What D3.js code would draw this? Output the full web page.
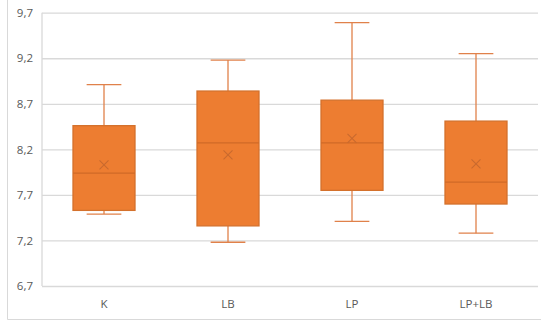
<!DOCTYPE html>
<html>
<head>
<meta charset="utf-8">
<script src="https://cdn.jsdelivr.net/npm/d3@7"></script>
<style>
  html, body { margin: 0; padding: 0; background: #fff; }
  svg { display: block; }
</style>
</head>
<body>
<svg id="chart" width="541" height="324"></svg>
<script>
// Groups and their five-number summaries plus mean
const categories = ["K", "LB", "LP", "LP+LB"];
const minValues    = [7.49, 7.18, 7.41, 7.28];
const q1Values     = [7.53, 7.36, 7.75, 7.60];
const medianValues = [7.94, 8.27, 8.27, 7.84];
const q3Values     = [8.46, 8.84, 8.74, 8.51];
const maxValues    = [8.91, 9.18, 9.59, 9.25];
const meanValues   = [8.03, 8.14, 8.32, 8.04];
const tickValues   = [6.7, 7.2, 7.7, 8.2, 8.7, 9.2, 9.7];

const svg = d3.select("#chart");
const W = 541, H = 324;
const plot = { left: 42, right: 538, top: 12.7, bottom: 286 };

// Outer chart-area frame (left and bottom edges visible)
svg.append("path")
  .attr("d", `M7.5,0 V319.5 H${W}`)
  .attr("fill", "none")
  .attr("stroke", "#d9d9d9")
  .attr("stroke-width", 1);

const x = d3.scaleBand().domain(categories).range([plot.left, plot.right]).padding(0);
const y = d3.scaleLinear().domain([6.7, 9.7]).range([plot.bottom, plot.top]);

const fmt = v => d3.format(".1f")(v).replace(".", ",");

// Horizontal gridlines and value labels
const yAxis = d3.axisLeft(y).tickValues(tickValues).tickFormat(fmt)
  .tickSize(-(plot.right - plot.left)).tickPadding(9);
const gy = svg.append("g").attr("transform", `translate(${plot.left},0)`).call(yAxis);
gy.select(".domain").remove();
gy.selectAll(".tick line").attr("stroke", "#d9d9d9").attr("stroke-width", 1.3);
gy.selectAll(".tick text")
  .attr("fill", "#595959")
  .style("font-family", "'Open Sans', 'Liberation Sans', sans-serif")
  .style("font-size", "11.5px");

// Vertical left edge of plot area
svg.append("line")
  .attr("x1", plot.left).attr("x2", plot.left)
  .attr("y1", y(9.7)).attr("y2", y(6.7))
  .attr("stroke", "#d9d9d9").attr("stroke-width", 1.3);

// Category labels
const xAxis = d3.axisBottom(x).tickSize(0).tickPadding(14);
const gx = svg.append("g").attr("transform", `translate(0,${plot.bottom})`).call(xAxis);
gx.select(".domain").remove();
gx.selectAll(".tick text")
  .attr("fill", "#595959")
  .style("font-family", "'Open Sans', 'Liberation Sans', sans-serif")
  .style("font-size", "11.5px");

const data = categories.map((c, i) => ({
  cat: c, min: minValues[i], q1: q1Values[i], med: medianValues[i],
  q3: q3Values[i], max: maxValues[i], mean: meanValues[i]
}));

const boxW = x.bandwidth() * 0.5;
const capW = boxW * 0.28;
const fill = "#ed7d31";
const edge = "#d4712c";
const whisk = "#e0814a";

const g = svg.append("g").selectAll("g").data(data).join("g")
  .attr("transform", d => `translate(${x(d.cat) + x.bandwidth() / 2},0)`);

// Whiskers
g.append("line").attr("x1", 0).attr("x2", 0)
  .attr("y1", d => y(d.max)).attr("y2", d => y(d.q3))
  .attr("stroke", whisk).attr("stroke-width", 1.3);
g.append("line").attr("x1", 0).attr("x2", 0)
  .attr("y1", d => y(d.q1)).attr("y2", d => y(d.min))
  .attr("stroke", whisk).attr("stroke-width", 1.3);
g.append("line").attr("x1", -capW).attr("x2", capW)
  .attr("y1", d => y(d.max)).attr("y2", d => y(d.max))
  .attr("stroke", whisk).attr("stroke-width", 1.3);
g.append("line").attr("x1", -capW).attr("x2", capW)
  .attr("y1", d => y(d.min)).attr("y2", d => y(d.min))
  .attr("stroke", whisk).attr("stroke-width", 1.3);

// Boxes
g.append("rect")
  .attr("x", -boxW / 2).attr("width", boxW)
  .attr("y", d => y(d.q3)).attr("height", d => y(d.q1) - y(d.q3))
  .attr("fill", fill).attr("stroke", edge).attr("stroke-width", 1.3);

// Median lines
g.append("line").attr("x1", -boxW / 2).attr("x2", boxW / 2)
  .attr("y1", d => y(d.med)).attr("y2", d => y(d.med))
  .attr("stroke", "#cf6a27").attr("stroke-width", 1.3);

// Mean markers
const m = 4.5;
g.append("path")
  .attr("d", d => `M${-m},${y(d.mean) - m}L${m},${y(d.mean) + m}M${m},${y(d.mean) - m}L${-m},${y(d.mean) + m}`)
  .attr("stroke", "#c96a2e").attr("stroke-width", 1.1).attr("fill", "none");
</script>
</body>
</html>
